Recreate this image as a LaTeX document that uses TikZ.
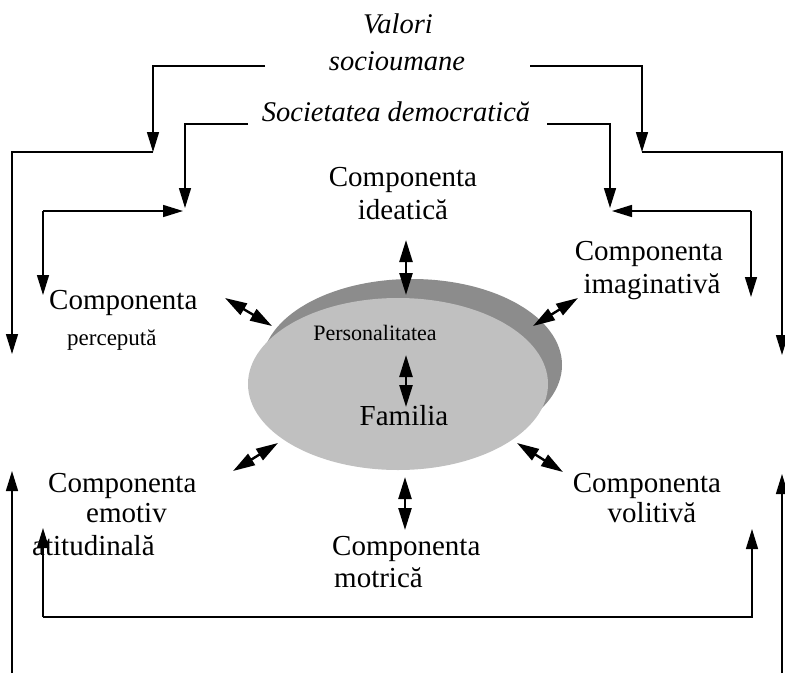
\documentclass[tikz,border=0pt]{standalone}
\usepackage{fontspec}
\setmainfont{Liberation Serif}
\usetikzlibrary{arrows.meta}

\begin{document}
\begin{tikzpicture}[x=1pt,y=-1pt,
  lbl/.style={inner sep=0pt, font=\fontsize{29}{33}\selectfont},
  ilbl/.style={inner sep=0pt, font=\fontsize{28.5}{33}\selectfont\itshape},
  smalllbl/.style={inner sep=0pt, font=\fontsize{22}{26}\selectfont},
  link/.style={line width=1.5pt, -{Triangle[length=20pt,width=12pt]}},
  twoway/.style={line width=2.4pt,
    {Triangle[length=22pt,width=13pt]}-{Triangle[length=22pt,width=13pt]}},
]
\useasboundingbox (0,0) rectangle (785,673);
\fill[white] (0,0) rectangle (785,673);

% central disc
\fill[fill={rgb,255:red,140;green,140;blue,140}] (412,365) ellipse [x radius=150pt, y radius=86pt];
\fill[fill={rgb,255:red,192;green,192;blue,192}] (398,384) ellipse [x radius=150pt, y radius=86pt];
\node[smalllbl, anchor=base] (pers) at (375,340) {Personalitatea};
\node[lbl, anchor=base] (fam) at (404,425) {Familia};

% headings
\node[ilbl, anchor=base] (val1) at (398,33) {Valori};
\node[ilbl, anchor=base] (val2) at (397,70) {socioumane};
\node[ilbl, anchor=base] (soc) at (396,121) {Societatea democratică};

% components
\node[lbl, anchor=base] (ide1) at (403,186) {Componenta};
\node[lbl, anchor=base] (ide2) at (403,219) {ideatică};
\node[lbl, anchor=base] (ima1) at (649,260) {Componenta};
\node[lbl, anchor=base] (ima2) at (652,293) {imaginativă};
\node[lbl, anchor=base west] (per1) at (49,309) {Componenta};
\node[smalllbl, anchor=base west, font=\fontsize{23}{26}\selectfont] (per2) at (67,345) {percepută};
\node[lbl, anchor=base west] (emo1) at (48,492) {Componenta};
\node[lbl, anchor=base west] (emo2) at (86,522) {emotiv};
\node[lbl, anchor=base west] (emo3) at (32,555) {atitudinală};
\node[lbl, anchor=base] (vol1) at (647,492) {Componenta};
\node[lbl, anchor=base] (vol2) at (652,522) {volitivă};
\node[lbl, anchor=base west] (mot1) at (332,555) {Componenta};
\node[lbl, anchor=base west] (mot2) at (334,587) {motrică};

% two-way links around the disc
\coordinate (tA) at (406,240); \coordinate (tB) at (406,295);
\coordinate (cA) at (406,355); \coordinate (cB) at (406,407);
\coordinate (ulA) at (225,298); \coordinate (ulB) at (272,326);
\coordinate (urA) at (533,326); \coordinate (urB) at (578,298);
\coordinate (llA) at (233,471); \coordinate (llB) at (278,443);
\coordinate (lrA) at (517,443); \coordinate (lrB) at (563,472);
\coordinate (bA) at (405,477); \coordinate (bB) at (405,530);
\draw[twoway] (tA) -- (tB);
\draw[twoway] (cA) -- (cB);
\draw[twoway] (ulA) -- (ulB);
\draw[twoway] (urA) -- (urB);
\draw[twoway] (llA) -- (llB);
\draw[twoway] (lrA) -- (lrB);
\draw[twoway] (bA) -- (bB);

% left branches from the headings
\coordinate (vL0) at (265,66); \coordinate (vL1) at (153,152); \coordinate (vL2) at (12,354);
\coordinate (sL0) at (248,124); \coordinate (sL1) at (185,208);
\coordinate (pL0) at (43,211); \coordinate (pL1) at (183,211); \coordinate (pL2) at (43,295);
\draw[link] (vL0) -| (vL1);
\draw[link] (vL1) -| (vL2);
\draw[link] (sL0) -| (sL1);
\draw[link] (pL0) -- (pL1);
\draw[link] (pL0) -- (pL2);

% right branches from the headings
\coordinate (vR0) at (530,66); \coordinate (vR1) at (642,152); \coordinate (vR2) at (782,355);
\coordinate (sR0) at (547,124); \coordinate (sR1) at (610,208);
\coordinate (iR0) at (751,211); \coordinate (iR1) at (612,211); \coordinate (iR2) at (751,297);
\draw[link] (vR0) -| (vR1);
\draw[link] (vR1) -| (vR2);
\draw[link] (sR0) -| (sR1);
\draw[link] (iR0) -- (iR1);
\draw[link] (iR0) -- (iR2);

% bottom feedback loops
\coordinate (bL0) at (12,673); \coordinate (bL1) at (12,471);
\coordinate (bR0) at (782,673); \coordinate (bR1) at (782,474);
\coordinate (lp0) at (43,617); \coordinate (lp1) at (43,528);
\coordinate (lp2) at (752,617); \coordinate (lp3) at (752,529);
\draw[link] (bL0) -- (bL1);
\draw[link] (bR0) -- (bR1);
\draw[link] (lp0) -- (lp1);
\draw[link] (lp0) -- (lp2) -- (lp3);
\end{tikzpicture}
\end{document}
